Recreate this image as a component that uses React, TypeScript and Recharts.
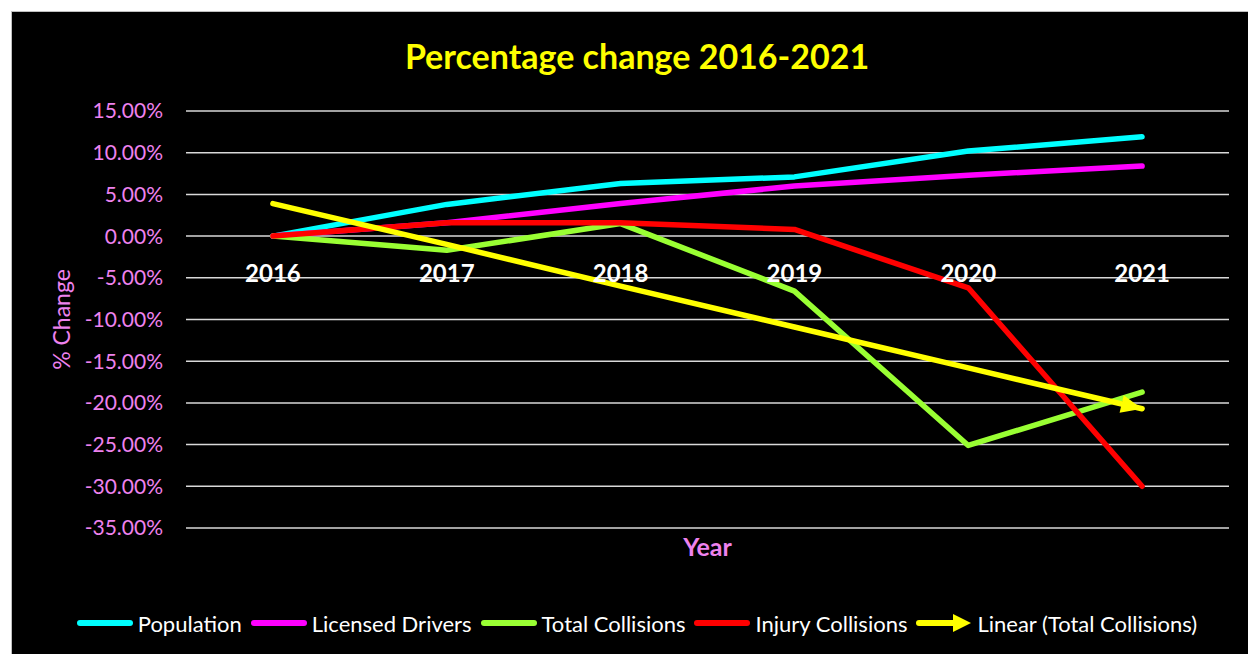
import React from 'react';
import {
  LineChart,
  Line,
  XAxis,
  YAxis,
  CartesianGrid,
  Legend,
} from 'recharts';

const years = ['2016', '2017', '2018', '2019', '2020', '2021'];
const population = [0, 3.8, 6.3, 7.1, 10.2, 11.9];
const licensedDrivers = [0, 1.6, 3.9, 6.0, 7.3, 8.4];
const totalCollisions = [0, -1.7, 1.5, -6.6, -25.1, -18.7];
const injuryCollisions = [0, 1.6, 1.6, 0.8, -6.2, -30.0];
const linearTotal = [3.9, -1.0, -6.0, -10.9, -15.8, -20.7];
const yTicks = [15, 10, 5, 0, -5, -10, -15, -20, -25, -30, -35];

const data = years.map((year, i) => ({
  year,
  population: population[i],
  licensed: licensedDrivers[i],
  total: totalCollisions[i],
  injury: injuryCollisions[i],
  linear: linearTotal[i],
}));

const series = [
  { key: 'population', name: 'Population', color: '#00FFFF' },
  { key: 'licensed', name: 'Licensed Drivers', color: '#FF00FF' },
  { key: 'total', name: 'Total Collisions', color: '#99FF33' },
  { key: 'injury', name: 'Injury Collisions', color: '#FF0000' },
  { key: 'linear', name: 'Linear (Total Collisions)', color: '#FFFF00' },
];

const W = 1236;
const H = 642;
const MARGIN = { top: 99, right: 19, left: 0, bottom: 16 };
const Y_AXIS_W = 174;
const X_AXIS_H = 80;
const LEGEND_H = 30;
const Y_MIN = -35;
const Y_MAX = 15;
const PLOT_H = H - MARGIN.top - MARGIN.bottom - X_AXIS_H - LEGEND_H;
const PLOT_W = W - MARGIN.left - MARGIN.right - Y_AXIS_W;
const BAND = PLOT_W / years.length;
const ZERO_Y = MARGIN.top + (PLOT_H * Y_MAX) / (Y_MAX - Y_MIN);

const PINK = '#EE82EE';
const FONT = 'Lato, "Open Sans", sans-serif';

// year labels sit just below the zero line, like Excel's axis crossing
const XTick = ({ x, payload }: any) => (
  <text
    x={x}
    y={ZERO_Y + 36}
    textAnchor="middle"
    dominantBaseline="central"
    fill="#fff"
    fontWeight={700}
    fontSize={24}
    fontFamily={FONT}
  >
    {payload.value}
  </text>
);

// arrow head on the last point of the trend line
const ArrowDot = (props: any) => {
  const { cx, cy, index } = props;
  if (index !== years.length - 1 || cx == null) return <g key={`a-${index}`} />;
  const dyPx = ((linearTotal[index - 1] - linearTotal[index]) * PLOT_H) / (Y_MAX - Y_MIN);
  const ang = (Math.atan2(dyPx, BAND) * 180) / Math.PI;
  return (
    <g key={`a-${index}`} transform={`translate(${cx},${cy}) rotate(${ang})`}>
      <polygon points="0,0 -21,-9 -21,9" fill="#FFFF00" />
    </g>
  );
};

const renderLegend = () => (
  <div
    style={{
      display: 'flex',
      justifyContent: 'center',
      alignItems: 'center',
      height: LEGEND_H,
      fontFamily: FONT,
      fontSize: 22,
      color: '#fff',
      paddingLeft: 40,
    }}
  >
    {series.map((s) => (
      <div key={s.key} style={{ display: 'flex', alignItems: 'center', marginRight: 8 }}>
        <svg width={58} height={20} style={{ marginRight: 4 }}>
          {s.key === 'linear' ? (
            <>
              <line x1={4} y1={10} x2={40} y2={10} stroke={s.color} strokeWidth={6} strokeLinecap="round" />
              <polygon points="56,10 38,1 38,19" fill={s.color} />
            </>
          ) : (
            <line x1={4} y1={10} x2={54} y2={10} stroke={s.color} strokeWidth={6} strokeLinecap="round" />
          )}
        </svg>
        <span>{s.name}</span>
      </div>
    ))}
  </div>
);

export default function App() {
  return (
    <div
      style={{
        position: 'absolute',
        left: 0,
        top: 0,
        width: 1248,
        height: 654,
        background: '#fff',
        overflow: 'hidden',
      }}
    >
      <div
        style={{
          position: 'absolute',
          left: 11,
          top: 11,
          width: W,
          height: H + 2,
          background: '#000',
          borderTop: '1px solid #bfbfbf',
          borderLeft: '1px solid #bfbfbf',
        }}
      >
        <div
          style={{
            position: 'absolute',
            top: 24,
            left: 0,
            width: W,
            textAlign: 'center',
            color: '#FFFF00',
            fontFamily: FONT,
            fontWeight: 700,
            fontSize: 34,
            lineHeight: '40px',
            paddingLeft: 14,
            boxSizing: 'border-box',
          }}
        >
          Percentage change 2016-2021
        </div>
        <LineChart width={W} height={H} data={data} margin={MARGIN}>
          <CartesianGrid vertical={false} stroke="#d9d9d9" strokeWidth={1.5} />
          <XAxis
            dataKey="year"
            height={X_AXIS_H}
            padding={{ left: BAND / 2, right: BAND / 2 }}
            axisLine={false}
            tickLine={false}
            tick={<XTick />}
            label={{
              value: 'Year',
              position: 'insideTop',
              offset: 10,
              fill: PINK,
              fontSize: 25,
              fontWeight: 700,
              fontFamily: FONT,
            }}
          />
          <YAxis
            width={Y_AXIS_W}
            domain={[Y_MIN, Y_MAX]}
            ticks={yTicks}
            interval={0}
            axisLine={false}
            tickLine={false}
            tickSize={20}
            tickMargin={3}
            tickFormatter={(v: number) => `${v.toFixed(2)}%`}
            tick={{ fill: PINK, fontSize: 21, fontFamily: FONT }}
            label={{
              value: '% Change',
              angle: -90,
              position: 'center',
              dx: -37,
              fill: PINK,
              fontSize: 23,
              fontFamily: FONT,
            }}
          />
          <Legend verticalAlign="bottom" height={LEGEND_H} content={renderLegend} />
          {series.map((s) => (
            <Line
              key={s.key}
              type="linear"
              dataKey={s.key}
              name={s.name}
              stroke={s.color}
              strokeWidth={5.5}
              strokeLinecap="round"
              strokeLinejoin="round"
              dot={s.key === 'linear' ? ArrowDot : false}
              activeDot={false}
              isAnimationActive={false}
            />
          ))}
        </LineChart>
      </div>
    </div>
  );
}
